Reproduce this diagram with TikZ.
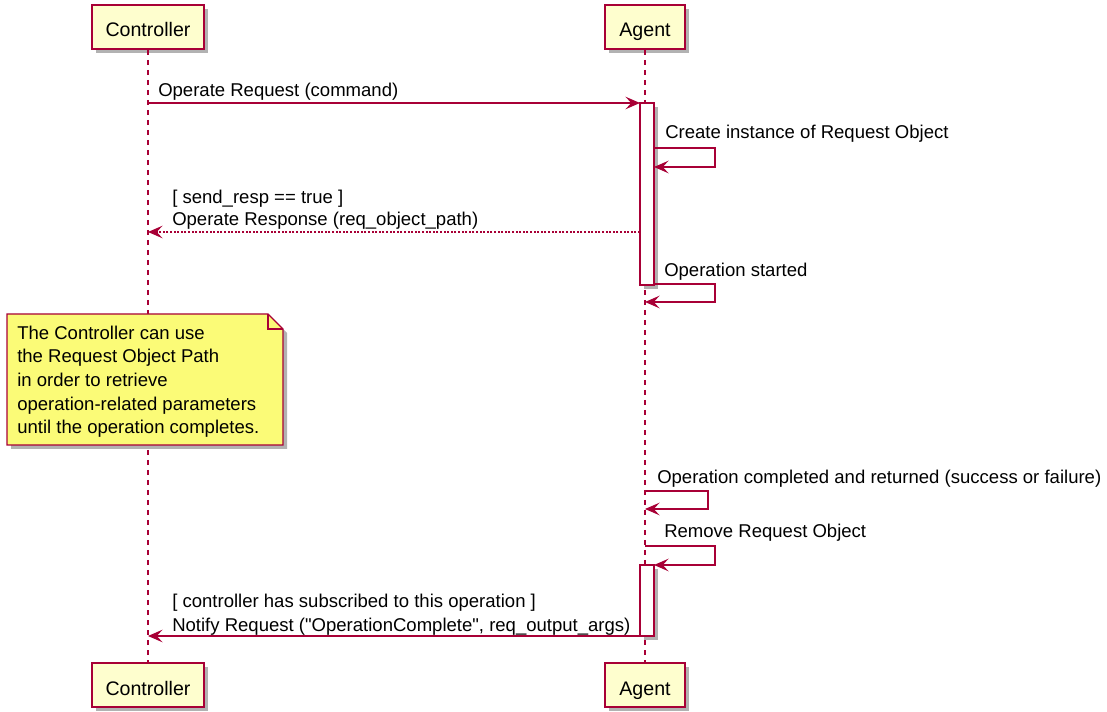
\documentclass[tikz,border=0pt]{standalone}
\usepackage{fontspec}
\setmainfont{Liberation Sans}
\usetikzlibrary{arrows.meta,shadows}
\definecolor{umlborder}{HTML}{A80036}
\definecolor{umlfill}{HTML}{FEFECE}
\definecolor{notefill}{HTML}{FBFB77}
\tikzset{
  umlshadow/.style={drop shadow={shadow xshift=3pt,shadow yshift=-3pt,fill=black,opacity=0.3}},
  participant/.style={draw=umlborder,fill=umlfill,line width=1.5pt,inner xsep=10.5pt,
    minimum height=33pt,text height=15pt,text depth=0pt,font=\fontsize{14.7}{17}\selectfont,umlshadow},
  lifeline/.style={draw=umlborder,line width=0.9pt,dash pattern=on 3.75pt off 3.75pt},
  actbar/.style={draw=umlborder,fill=white,line width=1pt,minimum width=10.5pt,
    inner sep=0pt,outer sep=0pt,umlshadow},
  msg/.style={draw=umlborder,line width=1pt,-{Stealth[length=11pt,width=9.5pt,inset=4.5pt]}},
  reply/.style={msg,dash pattern=on 1.5pt off 1.2pt},
  msglabel/.style={anchor=base west,inner sep=0pt,font=\fontsize{13.9}{17}\selectfont,align=left},
  notebox/.style={draw=umlborder,fill=notefill,line width=1pt},
}
\begin{document}
\begin{tikzpicture}[x=0.75pt,y=-0.75pt]
  \useasboundingbox (0,0) rectangle (1107,712);
  \node[participant] (ctrltop) at (148,27) {Controller};
  \node[participant] (agenttop) at (645,27) {Agent};
  \node[participant] (ctrlbot) at (148,685) {Controller};
  \node[participant] (agentbot) at (645,685) {Agent};
  \draw[lifeline] (ctrltop) -- (ctrlbot);
  \draw[lifeline] (agenttop) -- (agentbot);

  \node[actbar,minimum height=136.5pt] (act1) at (647,194) {};
  \node[actbar,minimum height=53.25pt] (act2) at (647,600.5) {};

  \coordinate (c1) at (148,103);
  \coordinate (c3) at (148,232);
  \coordinate (c7) at (148,636);
  \coordinate (s2) at (715,148);
  \coordinate (s4) at (715,284);
  \coordinate (s5) at (708,491);
  \coordinate (s6) at (715,546);

  \draw[msg] (c1) -- (act1.north west);
  \node[msglabel] (l1) at (158,97) {Operate Request (command)};

  \draw[msg] (act1.east |- s2) -- (s2) -- ++(0,19) coordinate (s2b) -- (act1.east |- s2b);
  \node[msglabel] (l2) at (665,139) {Create instance of Request Object};

  \draw[reply] (act1.west |- c3) -- (c3);
  \node[msglabel] (l3) at (172,226) {[ send\_resp == true ]\\Operate Response (req\_object\_path)};

  \draw[msg] (act1.east |- s4) -- (s4) -- ++(0,18) coordinate (s4b) -- (agenttop.center |- s4b);
  \node[msglabel] (l4) at (664,277) {Operation started};

  \filldraw[notebox,umlshadow] (7,314) -- (268,314) -- (283,329) -- (283,445) -- (7,445) -- cycle;
  \draw[notebox,fill=none] (268,314) -- (268,329) -- (283,329);
  \node[msglabel,font=\fontsize{13.9}{17.8}\selectfont] (note) at (17,434)
    {The Controller can use\\the Request Object Path\\in order to retrieve\\operation-related parameters\\until the operation completes.};

  \draw[msg] (agenttop.center |- s5) -- (s5) -- ++(0,18) coordinate (s5b) -- (agenttop.center |- s5b);
  \node[msglabel] (l5) at (657,484) {Operation completed and returned (success or failure)};

  \draw[msg] (agenttop.center |- s6) -- (s6) -- ++(0,19) coordinate (s6b) -- (act2.north east);
  \node[msglabel] (l6) at (664,538) {Remove Request Object};

  \draw[msg] (act2.south west) -- (c7);
  \node[msglabel,font=\fontsize{13.9}{18}\selectfont] (l7) at (172,632)
    {[ controller has subscribed to this operation ]\\Notify Request (\textquotedbl OperationComplete\textquotedbl, req\_output\_args)};
\end{tikzpicture}
\end{document}
